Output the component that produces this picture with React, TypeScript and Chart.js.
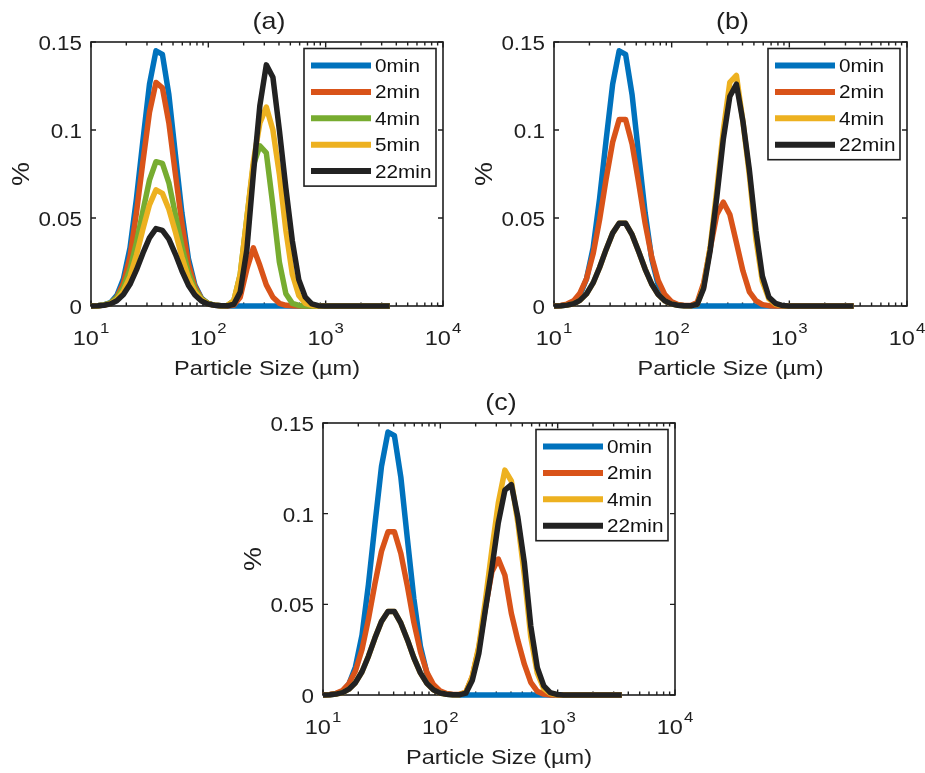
import React, { useEffect, useRef } from 'react';
import { Chart, registerables } from 'chart.js';

Chart.register(...registerables);

// ---------------- data ----------------
// particle size classes (µm), log-spaced bins
const sizes = [10, 11.4, 12.9, 14.7, 16.6, 18.9, 21.5, 24.4, 27.7, 31.5, 35.8, 40.6, 46.1, 52.4, 59.5, 67.6, 76.8, 87.3, 99.1, 113, 128, 145, 165, 187, 213, 242, 275, 312, 355, 403, 458, 520, 590, 671, 762, 865, 983, 1120, 1270, 1440, 1640, 1860, 2110, 2400, 2720, 3090, 3520];

// 0 min (same feed in every panel)
const feed0min = [0, 0.0001, 0.0006, 0.002, 0.006, 0.0155, 0.033, 0.061, 0.094, 0.126, 0.145, 0.143, 0.12, 0.086, 0.053, 0.027, 0.012, 0.0045, 0.0015, 0.0004, 0.0001, 0, 0, 0, 0, 0, 0, 0, 0, 0, 0, 0, 0, 0, 0, 0, 0, 0, 0, 0, 0, 0, 0, 0, 0, 0, 0];

// panel (a)
const a2min = [0, 0.0001, 0.0005, 0.0017, 0.005, 0.013, 0.028, 0.053, 0.082, 0.11, 0.127, 0.124, 0.104, 0.075, 0.047, 0.024, 0.011, 0.0042, 0.0014, 0.0004, 0.0001, 0, 0.0005, 0.005, 0.021, 0.033, 0.023, 0.012, 0.005, 0.0015, 0.0004, 0.0001, 0, 0, 0, 0, 0, 0, 0, 0, 0, 0, 0, 0, 0, 0, 0];
const a4min = [0, 0.0002, 0.0006, 0.0018, 0.0046, 0.0105, 0.021, 0.036, 0.054, 0.0715, 0.082, 0.081, 0.07, 0.052, 0.034, 0.019, 0.0095, 0.004, 0.0015, 0.0005, 0.0002, 0.0003, 0.003, 0.018, 0.05, 0.08, 0.091, 0.087, 0.057, 0.025, 0.007, 0.0015, 0.0003, 0, 0, 0, 0, 0, 0, 0, 0, 0, 0, 0, 0, 0, 0];
const a5min = [0, 0.0001, 0.0005, 0.0014, 0.0037, 0.0084, 0.0167, 0.029, 0.0437, 0.0575, 0.066, 0.064, 0.055, 0.042, 0.028, 0.016, 0.008, 0.0035, 0.0013, 0.0005, 0.0002, 0.0003, 0.003, 0.018, 0.05, 0.082, 0.104, 0.113, 0.1, 0.075, 0.043, 0.018, 0.006, 0.0015, 0.0003, 0, 0, 0, 0, 0, 0, 0, 0, 0, 0, 0, 0];
const a22min = [0, 0.0001, 0.0004, 0.0012, 0.003, 0.0065, 0.0123, 0.0205, 0.03, 0.0387, 0.044, 0.043, 0.038, 0.0295, 0.02, 0.0118, 0.0062, 0.0028, 0.0011, 0.0004, 0.0001, 0.0001, 0.001, 0.008, 0.032, 0.075, 0.114, 0.137, 0.13, 0.1, 0.067, 0.037, 0.015, 0.005, 0.0012, 0.0002, 0, 0, 0, 0, 0, 0, 0, 0, 0, 0, 0];

// panel (b)
const b2min = [0, 0.0003, 0.0011, 0.003, 0.0073, 0.0156, 0.0296, 0.049, 0.072, 0.093, 0.106, 0.106, 0.092, 0.07, 0.047, 0.028, 0.0145, 0.0066, 0.0026, 0.0009, 0.0003, 0.0003, 0.002, 0.013, 0.033, 0.052, 0.059, 0.052, 0.036, 0.02, 0.008, 0.003, 0.0008, 0.0002, 0, 0, 0, 0, 0, 0, 0, 0, 0, 0, 0, 0, 0];
const b4min = [0, 0.0002, 0.0005, 0.0013, 0.0032, 0.0069, 0.0131, 0.0219, 0.032, 0.0414, 0.047, 0.047, 0.0405, 0.031, 0.021, 0.0125, 0.0065, 0.003, 0.0012, 0.0004, 0.0001, 0.0001, 0.001, 0.011, 0.034, 0.066, 0.1, 0.127, 0.131, 0.105, 0.074, 0.038, 0.014, 0.004, 0.001, 0.0002, 0, 0, 0, 0, 0, 0, 0, 0, 0, 0, 0];
const b22min = [0, 0.0002, 0.0005, 0.0013, 0.0032, 0.0069, 0.0131, 0.0219, 0.032, 0.0414, 0.047, 0.047, 0.0405, 0.031, 0.021, 0.0125, 0.0065, 0.003, 0.0012, 0.0004, 0.0001, 0.0001, 0.001, 0.01, 0.032, 0.062, 0.095, 0.119, 0.126, 0.105, 0.077, 0.043, 0.017, 0.005, 0.0015, 0.0003, 0, 0, 0, 0, 0, 0, 0, 0, 0, 0, 0];

// panel (c)
const c2min = [0, 0.0003, 0.0009, 0.0025, 0.0062, 0.0132, 0.0251, 0.0419, 0.0614, 0.0792, 0.09, 0.09, 0.078, 0.06, 0.04, 0.024, 0.0125, 0.0058, 0.0023, 0.0008, 0.0003, 0.0003, 0.0015, 0.01, 0.026, 0.048, 0.068, 0.075, 0.066, 0.045, 0.03, 0.017, 0.007, 0.002, 0.0005, 0, 0, 0, 0, 0, 0, 0, 0, 0, 0, 0, 0];
const c4min = [0, 0.0001, 0.0005, 0.0013, 0.0032, 0.0068, 0.0128, 0.0214, 0.0314, 0.0405, 0.046, 0.046, 0.0396, 0.0305, 0.0205, 0.0122, 0.0064, 0.0029, 0.0011, 0.0004, 0.0001, 0.0002, 0.0015, 0.01, 0.027, 0.052, 0.08, 0.106, 0.124, 0.118, 0.095, 0.066, 0.032, 0.012, 0.0035, 0.0008, 0.0001, 0, 0, 0, 0, 0, 0, 0, 0, 0, 0];
const c22min = [0, 0.0001, 0.0005, 0.0013, 0.0032, 0.0068, 0.0128, 0.0214, 0.0314, 0.0405, 0.046, 0.046, 0.0396, 0.0305, 0.0205, 0.0122, 0.0064, 0.0029, 0.0011, 0.0004, 0.0001, 0.0001, 0.001, 0.008, 0.023, 0.047, 0.07, 0.095, 0.113, 0.116, 0.098, 0.073, 0.038, 0.015, 0.005, 0.0013, 0.0003, 0, 0, 0, 0, 0, 0, 0, 0, 0, 0];

// axes
const yTicks = [0, 0.05, 0.1, 0.15];
const yTickLabels = ['0', '0.05', '0.1', '0.15'];
const xTicks = [10, 100, 1000, 10000];
const xTickBase = '10';
const xTickExps = ['1', '2', '3', '4'];
const xMinorTicks = [20, 30, 40, 50, 60, 70, 80, 90, 200, 300, 400, 500, 600, 700, 800, 900, 2000, 3000, 4000, 5000, 6000, 7000, 8000, 9000];
const xTitle = 'Particle Size (µm)';
const yTitle = '%';

// ---------------- styles ----------------
const BLUE = '#0072BD';
const ORANGE = '#D95319';
const YELLOW = '#EDB120';
const GREEN = '#77AC30';
const BLACK = '#222222';
const INK = '#1f1f1f';
const FONT = '"Liberation Sans", Arial, Helvetica, sans-serif';
const SX = 1.12; // horizontal text stretch of the reference

type Series = { label: string; data: number[]; color: string };
type PanelDef = {
  title: string;
  box: { left: number; top: number; width: number; height: number };
  pad: { left: number; top: number; right: number; bottom: number };
  series: Series[];
};

const panels: PanelDef[] = [
  {
    title: '(a)',
    box: { left: 0, top: 0, width: 462, height: 385 },
    pad: { left: 91, top: 42, right: 19, bottom: 79 },
    series: [
      { label: '0min', data: feed0min, color: BLUE },
      { label: '2min', data: a2min, color: ORANGE },
      { label: '4min', data: a4min, color: GREEN },
      { label: '5min', data: a5min, color: YELLOW },
      { label: '22min', data: a22min, color: BLACK },
    ],
  },
  {
    title: '(b)',
    box: { left: 462, top: 0, width: 463, height: 385 },
    pad: { left: 92, top: 42, right: 18, bottom: 79 },
    series: [
      { label: '0min', data: feed0min, color: BLUE },
      { label: '2min', data: b2min, color: ORANGE },
      { label: '4min', data: b4min, color: YELLOW },
      { label: '22min', data: b22min, color: BLACK },
    ],
  },
  {
    title: '(c)',
    box: { left: 230, top: 385, width: 470, height: 388 },
    pad: { left: 93, top: 38, right: 25, bottom: 78 },
    series: [
      { label: '0min', data: feed0min, color: BLUE },
      { label: '2min', data: c2min, color: ORANGE },
      { label: '4min', data: c4min, color: YELLOW },
      { label: '22min', data: c22min, color: BLACK },
    ],
  },
];

function txt(ctx: CanvasRenderingContext2D, s: string, x: number, y: number, size: number, align: 'left' | 'center' | 'right') {
  ctx.save();
  ctx.font = `${size}px ${FONT}`;
  ctx.textBaseline = 'alphabetic';
  ctx.textAlign = 'left';
  const w = ctx.measureText(s).width * SX;
  const x0 = align === 'left' ? x : align === 'center' ? x - w / 2 : x - w;
  ctx.translate(x0, y);
  ctx.scale(SX, 1);
  ctx.fillText(s, 0, 0);
  ctx.restore();
}

function textWidth(ctx: CanvasRenderingContext2D, s: string, size: number) {
  ctx.save();
  ctx.font = `${size}px ${FONT}`;
  const w = ctx.measureText(s).width * SX;
  ctx.restore();
  return w;
}

function makeDecor(title: string) {
  return {
    id: 'decor',
    beforeDatasetsDraw(chart: any) {
      const { ctx, chartArea: ca, scales } = chart;
      const xs = scales.x;
      const ys = scales.y;
      ctx.save();
      ctx.strokeStyle = INK;
      ctx.lineWidth = 1.6;
      ctx.strokeRect(ca.left, ca.top, ca.right - ca.left, ca.bottom - ca.top);
      ctx.lineWidth = 1.4;
      ctx.beginPath();
      for (const v of yTicks) {
        const y = ys.getPixelForValue(v);
        ctx.moveTo(ca.left, y);
        ctx.lineTo(ca.left + 5, y);
        ctx.moveTo(ca.right, y);
        ctx.lineTo(ca.right - 5, y);
      }
      for (const v of xTicks) {
        const x = xs.getPixelForValue(v);
        ctx.moveTo(x, ca.bottom);
        ctx.lineTo(x, ca.bottom - 5.5);
        ctx.moveTo(x, ca.top);
        ctx.lineTo(x, ca.top + 5.5);
      }
      for (const v of xMinorTicks) {
        const x = xs.getPixelForValue(v);
        ctx.moveTo(x, ca.bottom);
        ctx.lineTo(x, ca.bottom - 3.5);
        ctx.moveTo(x, ca.top);
        ctx.lineTo(x, ca.top + 3.5);
      }
      ctx.stroke();

      ctx.fillStyle = INK;
      yTicks.forEach((v, i) => {
        txt(ctx, yTickLabels[i], ca.left - 9, ys.getPixelForValue(v) + 8, 20, 'right');
      });
      xTicks.forEach((v, i) => {
        const x = xs.getPixelForValue(v);
        const wb = textWidth(ctx, xTickBase, 21);
        const we = textWidth(ctx, xTickExps[i], 15);
        const x0 = x - (wb + 1 + we) / 2;
        txt(ctx, xTickBase, x0, ca.bottom + 39, 21, 'left');
        txt(ctx, xTickExps[i], x0 + wb + 1, ca.bottom + 27, 15, 'left');
      });
      txt(ctx, xTitle, (ca.left + ca.right) / 2, ca.bottom + 69, 21, 'center');
      ctx.save();
      ctx.translate(ca.left - 71, (ca.top + ca.bottom) / 2);
      ctx.rotate(-Math.PI / 2);
      txt(ctx, yTitle, 0, 8.5, 24, 'center');
      ctx.restore();
      txt(ctx, title, (ca.left + ca.right) / 2 + 2, ca.top - 13, 24, 'center');
      ctx.restore();
    },
    afterDatasetsDraw(chart: any) {
      const { ctx, chartArea: ca } = chart;
      const ds = chart.data.datasets;
      const n = ds.length;
      const bw = 132;
      const bh = 32 + (n - 1) * 26.4;
      const bx = ca.right - 7 - bw;
      const by = ca.top + 6.5;
      ctx.save();
      ctx.fillStyle = '#ffffff';
      ctx.fillRect(bx, by, bw, bh);
      ctx.strokeStyle = INK;
      ctx.lineWidth = 1.6;
      ctx.strokeRect(bx, by, bw, bh);
      ds.forEach((d: any, i: number) => {
        const cy = by + 17 + i * 26.4;
        ctx.strokeStyle = d.borderColor;
        ctx.lineWidth = 6;
        ctx.lineCap = 'butt';
        ctx.beginPath();
        ctx.moveTo(bx + 7, cy);
        ctx.lineTo(bx + 67, cy);
        ctx.stroke();
        ctx.fillStyle = '#111111';
        txt(ctx, d.label, bx + 71, cy + 6.5, 18.5, 'left');
      });
      ctx.restore();
    },
  };
}

function Panel({ panel }: { panel: PanelDef }) {
  const ref = useRef<HTMLCanvasElement | null>(null);
  useEffect(() => {
    const canvas = ref.current;
    if (!canvas) return;
    const n = panel.series.length;
    const chart = new Chart(canvas, {
      type: 'line',
      data: {
        datasets: panel.series.map((s, i) => ({
          label: s.label,
          data: sizes.map((x, j) => ({ x, y: s.data[j] })),
          borderColor: s.color,
          backgroundColor: s.color,
          borderWidth: 5.5,
          pointRadius: 0,
          pointHoverRadius: 0,
          tension: 0,
          fill: false,
          borderJoinStyle: 'round',
          borderCapStyle: 'butt',
          order: n - 1 - i,
          clip: 10,
        })),
      },
      options: {
        animation: false,
        responsive: false,
        devicePixelRatio: 1,
        events: [],
        layout: { padding: panel.pad },
        scales: {
          x: { type: 'logarithmic', min: 10, max: 10000, display: false },
          y: { type: 'linear', min: 0, max: 0.15, display: false },
        },
        plugins: {
          legend: { display: false },
          tooltip: { enabled: false },
          title: { display: false },
        },
      } as any,
      plugins: [makeDecor(panel.title)],
    } as any);
    return () => chart.destroy();
  }, [panel]);
  const { left, top, width, height } = panel.box;
  return (
    <canvas
      ref={ref}
      width={width}
      height={height}
      style={{ position: 'absolute', left, top, width, height }}
    />
  );
}

export default function App() {
  return (
    <div
      style={{
        position: 'absolute',
        left: 0,
        top: 0,
        width: 925,
        height: 773,
        overflow: 'hidden',
        background: '#ffffff',
      }}
    >
      {panels.map((p) => (
        <Panel key={p.title} panel={p} />
      ))}
    </div>
  );
}
